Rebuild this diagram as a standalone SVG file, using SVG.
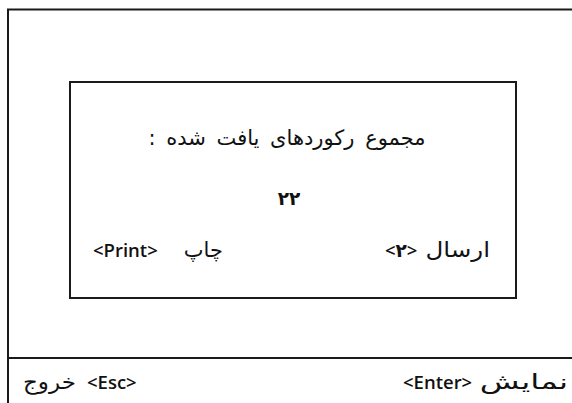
<svg xmlns="http://www.w3.org/2000/svg" width="572" height="403" viewBox="0 0 572 403">
<style>
.frame{fill:none;stroke:#1a1a1a;stroke-width:2}
.t{font-family:"Open Sans","DejaVu Sans",sans-serif;font-size:18.5px;font-weight:600;fill:#111}
.fa{font-family:"DejaVu Sans","Noto Sans",sans-serif;font-size:21px;fill:#111}
</style>
<rect width="572" height="403" fill="#fff"/>
<g id="screen">
<path class="frame" d="M8 410 V9.5 H580"/>
<line class="frame" x1="8" y1="358" x2="580" y2="358"/>
</g>
<g id="dialog">
<rect class="frame" x="70" y="82" width="446" height="216"/>
<text class="fa" x="287" y="145" text-anchor="middle" direction="rtl" font-size="23" word-spacing="4">مجموع رکوردهای یافت شده :</text>
<text class="t" x="289" y="205" text-anchor="middle" font-size="25" font-weight="700" letter-spacing="8">۲۲</text>
<text class="t" x="93" y="257">&lt;Print&gt;</text>
<text class="fa" x="223" y="257" text-anchor="end">چاپ</text>
<text class="t" x="385" y="257">&lt;۲&gt;</text>
<text class="fa" transform="translate(490,257) scale(1.17,1)" text-anchor="end">ارسال</text>
</g>
<g id="footer">
<text class="fa" transform="translate(76,389) scale(1.1,1)" text-anchor="end">خروج</text>
<text class="t" x="87" y="389" font-size="20">&lt;Esc&gt;</text>
<text class="t" x="403" y="389">&lt;Enter&gt;</text>
<text class="fa" transform="translate(568,389) scale(1.55,1)" text-anchor="end">نمایش</text>
</g>
</svg>
